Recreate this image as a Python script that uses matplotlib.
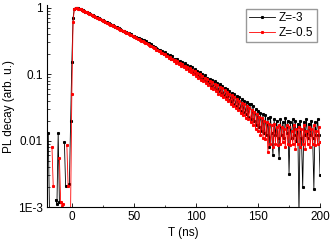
import numpy as np
import matplotlib.pyplot as plt

plt.rcParams['font.family'] = ['Liberation Sans', 'DejaVu Sans']
nan = np.nan

# time axis, 1 ns steps from -20 to 200 ns
t = np.arange(-20, 201, 1)

# Z=-3 (black)
z3 = [
    nan, 0.013, 0.0009, nan, nan, nan, nan, 0.0013, 0.0011, 0.013,
    0.0012, nan, nan, nan, 0.0095, 0.0021, nan, nan, 0.0022, 0.02,
    0.15, 0.7, 0.97, 1.0,
    0.99, 0.975, 0.962, 0.945, 0.932, 0.908, 0.892, 0.87, 0.855, 0.833,
    0.819, 0.798, 0.785, 0.764, 0.752, 0.731, 0.72, 0.701, 0.69, 0.671,
    0.661, 0.643, 0.633, 0.615, 0.607, 0.589, 0.582, 0.564, 0.558, 0.54,
    0.535, 0.517, 0.512, 0.495, 0.491, 0.474, 0.47, 0.453, 0.45, 0.435,
    0.432, 0.415, 0.414, 0.398, 0.397, 0.381, 0.381, 0.365, 0.366, 0.35,
    0.352, 0.337, 0.336, 0.322, 0.323, 0.307, 0.312, 0.296, 0.298, 0.282,
    0.281, 0.268, 0.259, 0.257, 0.245, 0.243, 0.232, 0.235, 0.217, 0.222,
    0.204, 0.212, 0.194, 0.2, 0.185, 0.191, 0.172, 0.185, 0.166, 0.17,
    0.155, 0.168, 0.148, 0.16, 0.14, 0.151, 0.134, 0.146, 0.124, 0.137,
    0.118, 0.131, 0.112, 0.126, 0.104, 0.119, 0.1, 0.112, 0.092, 0.107,
    0.087, 0.101, 0.082, 0.096, 0.08, 0.089, 0.074, 0.086, 0.067, 0.081,
    0.062, 0.078, 0.059, 0.073, 0.055, 0.071, 0.052, 0.066, 0.048, 0.062,
    0.046, 0.059, 0.041, 0.056, 0.04, 0.052, 0.036, 0.051, 0.033, 0.047,
    0.031, 0.045, 0.028, 0.043, 0.027, 0.04, 0.025, 0.038, 0.023, 0.036,
    0.036, 0.021, 0.033, 0.02, 0.03, 0.017, 0.028, 0.016, 0.026, 0.014,
    0.025, 0.013, 0.024, 0.012, 0.022, 0.008, 0.023, 0.013, 0.006, 0.021,
    0.012, 0.02, 0.011, 0.0055, 0.021, 0.012, 0.019, 0.011, 0.022, 0.013,
    0.02, 0.0032, 0.019, 0.011, 0.021, 0.012, 0.02, 0.01, 0.018, 0.0008,
    0.02, 0.011, 0.002, 0.019, 0.012, 0.021, 0.011, 0.018, 0.012, 0.02,
    0.011, 0.0019, 0.019, 0.012, 0.021, 0.012, 0.003,
]

# Z=-0.5 (red)
z05 = [
    nan, nan, nan, nan, 0.008, 0.0021, nan, nan, nan, nan,
    0.0055, 0.0012, 0.001, 0.0011, nan, nan, 0.0085, 0.0021, nan, 0.0009,
    0.05, 0.6, 0.96, 1.0,
    0.985, 0.972, 0.955, 0.94, 0.924, 0.905, 0.886, 0.866, 0.848, 0.828,
    0.812, 0.792, 0.778, 0.758, 0.744, 0.727, 0.712, 0.695, 0.682, 0.666,
    0.652, 0.637, 0.624, 0.609, 0.598, 0.583, 0.571, 0.558, 0.546, 0.534,
    0.523, 0.511, 0.5, 0.489, 0.479, 0.468, 0.459, 0.447, 0.44, 0.427,
    0.42, 0.41, 0.402, 0.39, 0.385, 0.373, 0.368, 0.357, 0.352, 0.34,
    0.336, 0.328, 0.319, 0.313, 0.305, 0.298, 0.291, 0.284, 0.277, 0.27,
    0.262, 0.258, 0.247, 0.245, 0.234, 0.233, 0.222, 0.221, 0.211, 0.209,
    0.2, 0.198, 0.188, 0.189, 0.177, 0.18, 0.167, 0.171, 0.158, 0.163,
    0.149, 0.157, 0.142, 0.148, 0.134, 0.142, 0.126, 0.134, 0.12, 0.128,
    0.112, 0.122, 0.106, 0.116, 0.099, 0.111, 0.094, 0.104, 0.088, 0.1,
    0.083, 0.094, 0.078, 0.089, 0.073, 0.084, 0.069, 0.08, 0.063, 0.076,
    0.06, 0.071, 0.055, 0.068, 0.051, 0.064, 0.048, 0.061, 0.045, 0.057,
    0.042, 0.054, 0.039, 0.05, 0.036, 0.048, 0.033, 0.045, 0.031, 0.042,
    0.029, 0.04, 0.026, 0.037, 0.024, 0.035, 0.022, 0.033, 0.021, 0.031,
    0.019, 0.029, 0.017, 0.027, 0.015, 0.025, 0.014, 0.023, 0.012, 0.022,
    0.011, 0.02, 0.0105, 0.019, 0.0068, 0.018, 0.009, 0.017, 0.008, 0.018,
    0.009, 0.016, 0.0085, 0.017, 0.009, 0.016, 0.0095, 0.015, 0.008, 0.017,
    0.009, 0.016, 0.0085, 0.014, 0.009, 0.017, 0.0075, 0.015, 0.009, 0.016,
    0.008, 0.015, 0.009, 0.017, 0.0075, 0.014, 0.009, 0.016, 0.008, 0.015,
    0.009, 0.017, 0.0085, 0.014, 0.009, 0.016, 0.0095,
]

fig = plt.figure(figsize=(3.31, 2.48), dpi=100)
ax = fig.add_axes([0.142, 0.165, 0.825, 0.815])

ax.plot(t, z3, '-s', color='black', lw=0.6, markersize=1.2, label='Z=-3')
ax.plot(t, z05, '-s', color='red', lw=0.6, markersize=1.2, label='Z=-0.5')

ax.set_yscale('log')
ax.set_xlim(-20, 200)
ax.set_ylim(1e-3, 1.1)
ax.set_xticks([0, 50, 100, 150, 200])
ax.set_xticks([25, 75, 125, 175], minor=True)
ax.set_yticks([1e-3, 0.01, 0.1, 1])
ax.set_yticklabels(['1E-3', '0.01', '0.1', '1'])
ax.spines[['top', 'right']].set_visible(False)
ax.tick_params(direction='in', length=3, width=0.6, labelsize=8.5, pad=3)
ax.tick_params(which='minor', direction='in', length=1.8, width=0.5)

ax.set_xlabel('T (ns)', fontsize=8.5, labelpad=3)
ax.set_ylabel('PL decay (arb. u.)', fontsize=8.5, labelpad=2)

ax.legend(loc='upper right', bbox_to_anchor=(1.01, 1.01), fontsize=8.5, frameon=True,
          fancybox=False, edgecolor='gray', handlelength=2.2, handletextpad=0.3,
          borderpad=0.3, labelspacing=0.2)

fig.savefig('out.png', dpi=100)
